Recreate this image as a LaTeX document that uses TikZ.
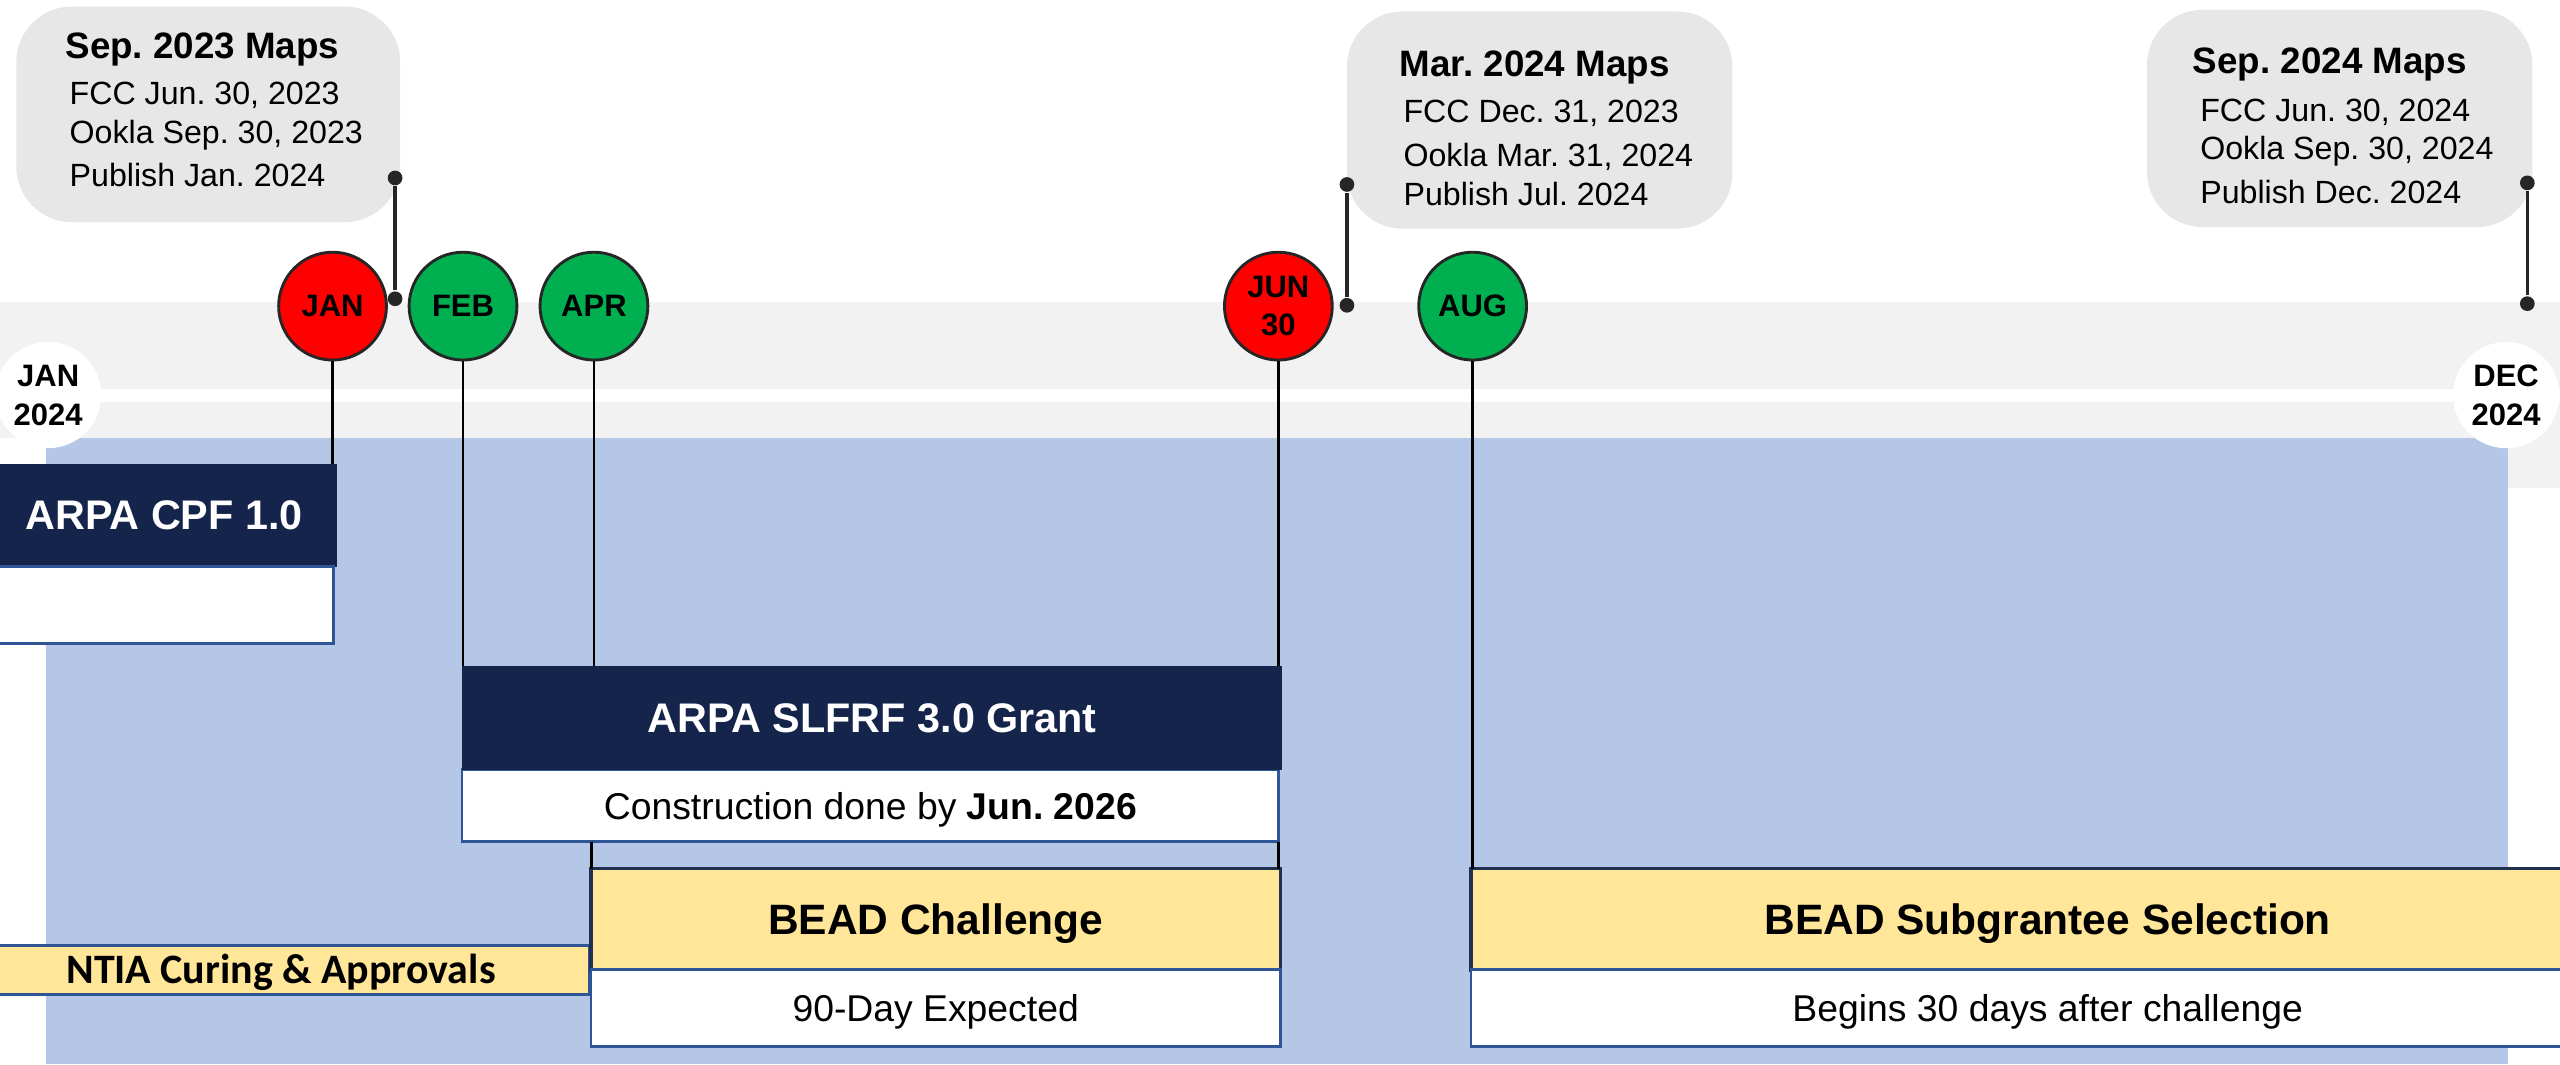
\documentclass[tikz,border=0pt]{standalone}
\usepackage{fontspec}
\setmainfont{Liberation Sans}
\newfontfamily\carlito{Carlito}
\usepackage{tikz}
\usetikzlibrary{positioning,calc}
\frenchspacing
\definecolor{navy}{HTML}{15244B}
\definecolor{bandgray}{HTML}{F2F2F2}
\definecolor{calloutgray}{HTML}{E7E7E7}
\definecolor{areablue}{HTML}{B4C7E7}
\definecolor{boxyellow}{HTML}{FFE699}
\definecolor{edgeblue}{HTML}{2F5597}
\definecolor{edgenavy}{HTML}{1F3050}
\definecolor{pingray}{HTML}{262626}
\definecolor{monthred}{HTML}{FF0000}
\definecolor{monthgreen}{HTML}{00B050}
\tikzset{
    header/.style = {
        shape=rectangle,
        fill=navy,
        text=white,
        inner sep=0pt,
        outer sep=0pt,
        anchor=north west,
        font=\fontsize{7.2}{8.6}\selectfont\bfseries,
        text height=5.15pt,
        text depth=0pt
    },
    stage/.style = {
        draw=edgenavy,
        shape=rectangle,
        fill=boxyellow,
        line width=0.6pt,
        inner sep=0pt,
        outer sep=0pt,
        anchor=north west,
        font=\fontsize{7.4}{8.9}\selectfont\bfseries,
        text height=5.3pt,
        text depth=0pt
    },
    note/.style = {
        draw=edgeblue,
        shape=rectangle,
        fill=white,
        line width=0.5pt,
        inner sep=0pt,
        outer sep=0pt,
        anchor=north west,
        font=\fontsize{6.5}{7.8}\selectfont,
        text height=4.65pt,
        text depth=0pt
    },
    curing/.style = {
        draw=edgeblue,
        shape=rectangle,
        fill=boxyellow,
        line width=0.6pt,
        inner sep=0pt,
        outer sep=0pt,
        anchor=north west,
        font=\carlito\fontsize{7.3}{8.7}\selectfont\bfseries,
        text height=4.7pt,
        text depth=0pt
    },
    month/.style = {
        draw=pingray,
        shape=circle,
        line width=0.5pt,
        minimum size=0.66cm,
        inner sep=0pt,
        align=center,
        font=\fontsize{5.4}{6.7}\selectfont\bfseries
    },
    yearend/.style = {
        shape=circle,
        fill=white,
        minimum size=0.65cm,
        inner sep=0pt,
        align=center,
        font=\fontsize{5.4}{6.8}\selectfont\bfseries
    },
    callout/.style = {
        shape=rectangle,
        fill=calloutgray,
        rounded corners=0.34cm,
        inner sep=0pt,
        outer sep=0pt,
        anchor=north west
    },
    calltitle/.style = {
        anchor=base,
        inner sep=0pt,
        font=\fontsize{6.4}{7.7}\selectfont\bfseries
    },
    callline/.style = {
        anchor=base west,
        inner sep=0pt,
        font=\fontsize{5.6}{6.7}\selectfont
    },
    pindot/.style = {
        shape=circle,
        fill=pingray,
        minimum size=0.09cm,
        inner sep=0pt
    },
    pinline/.style = {draw=pingray, line width=0.6pt},
    stem/.style = {draw=black, line width=0.45pt},
}

\begin{document}
\begin{tikzpicture}[x=0.01cm, y=-0.01cm]
    \useasboundingbox (0,0) rectangle (1568,652);

    % timeline band and area
    \fill[bandgray] (0,185) rectangle (1568,268);
    \fill[bandgray] (1536,268) rectangle (1568,299);
    \fill[white] (0,238) rectangle (1568,246);
    \fill[areablue] (28,268) rectangle (1536,652);

    % map releases
    \node[callout, minimum width=2.35cm, minimum height=1.32cm] (sep23) at (10,4) {};
    \node[calltitle] (sep23title) at (124,36) {Sep. 2023 Maps};
    \node[callline] (sep23fcc) at (42,64) {FCC Jun. 30, 2023};
    \node[callline] (sep23ookla) at (42,88) {Ookla Sep. 30, 2023};
    \node[callline] (sep23pub) at (42,114.5) {Publish Jan. 2024};

    \node[callout, minimum width=2.36cm, minimum height=1.33cm] (mar24) at (825,7) {};
    \node[calltitle] (mar24title) at (940,47) {Mar. 2024 Maps};
    \node[callline] (mar24fcc) at (859,75) {FCC Dec. 31, 2023};
    \node[callline] (mar24ookla) at (859,102) {Ookla Mar. 31, 2024};
    \node[callline] (mar24pub) at (859,126) {Publish Jul. 2024};

    \node[callout, minimum width=2.36cm, minimum height=1.33cm] (sep24) at (1315,6) {};
    \node[calltitle] (sep24title) at (1427,45) {Sep. 2024 Maps};
    \node[callline] (sep24fcc) at (1347,74.5) {FCC Jun. 30, 2024};
    \node[callline] (sep24ookla) at (1347,97.5) {Ookla Sep. 30, 2024};
    \node[callline] (sep24pub) at (1347,124.5) {Publish Dec. 2024};

    \node[pindot] (sep23top) at (242,109) {};
    \node[pindot] (sep23bot) at (242,183) {};
    \node[pindot] (mar24top) at (825,113) {};
    \node[pindot] (mar24bot) at (825,187) {};
    \node[pindot] (sep24top) at (1548,112) {};
    \node[pindot] (sep24bot) at (1548,186) {};
    \path[pinline] (sep23top) -- (sep23bot);
    \path[pinline] (mar24top) -- (mar24bot);
    \path[pinline] (sep24top) -- (sep24bot);

    % year ends
    \node[yearend] (start) at (29.5,242) {JAN\\2024};
    \node[yearend] (finish) at (1535,242) {DEC\\2024};

    % milestones
    \node[month, fill=monthred] (jan) at (203.7,187.5) {JAN};
    \node[month, fill=monthgreen] (feb) at (283.6,187.5) {FEB};
    \node[month, fill=monthgreen] (apr) at (363.8,187.5) {APR};
    \node[month, fill=monthred] (jun) at (783,187.5) {JUN\\30};
    \node[month, fill=monthgreen] (aug) at (902,187.5) {AUG};

    % programs
    \node[header, minimum width=2.11cm, minimum height=0.63cm] (cpf) at (-5,284) {ARPA CPF 1.0};
    \node[note, minimum width=2.09cm, minimum height=0.47cm] (cpfnote) at (-5,347) {};

    \node[note, minimum width=5.00cm, minimum height=0.44cm] (slfrfnote) at (283,471.5) {Construction done by \textbf{Jun. 2026}};
    \node[header, minimum width=5.02cm, minimum height=0.635cm] (slfrf) at (283,408) {ARPA SLFRF 3.0 Grant};

    \node[curing, minimum width=3.78cm, minimum height=0.30cm] (ntia) at (-17,579) {NTIA Curing \& Approvals};

    \node[stage, minimum width=4.22cm, minimum height=0.62cm] (challenge) at (362,532) {BEAD Challenge};
    \node[note, minimum width=4.22cm, minimum height=0.47cm] (challengenote) at (362,594) {90-Day Expected};

    \node[stage, minimum width=7.06cm, minimum height=0.62cm] (subgrant) at (901,532) {BEAD Subgrantee Selection};
    \node[note, minimum width=7.06cm, minimum height=0.47cm] (subgrantnote) at (901,594) {Begins 30 days after challenge};

    \path[stem] (jan) -- (jan |- cpf.north);
    \path[stem] (feb) -- (feb |- slfrf.north);
    \path[stem] (apr) -- (apr |- slfrf.north);
    \path[stem] (jun) -- (jun |- slfrf.north);
    \path[stem] ($(apr |- slfrfnote.south)+(-1.5,0)$) -- ($(apr |- challenge.north)+(-1.5,0)$);
    \path[stem] (jun |- slfrfnote.south) -- (jun |- challenge.north);
    \path[stem] (aug) -- (aug |- subgrant.north);
\end{tikzpicture}
\end{document}
